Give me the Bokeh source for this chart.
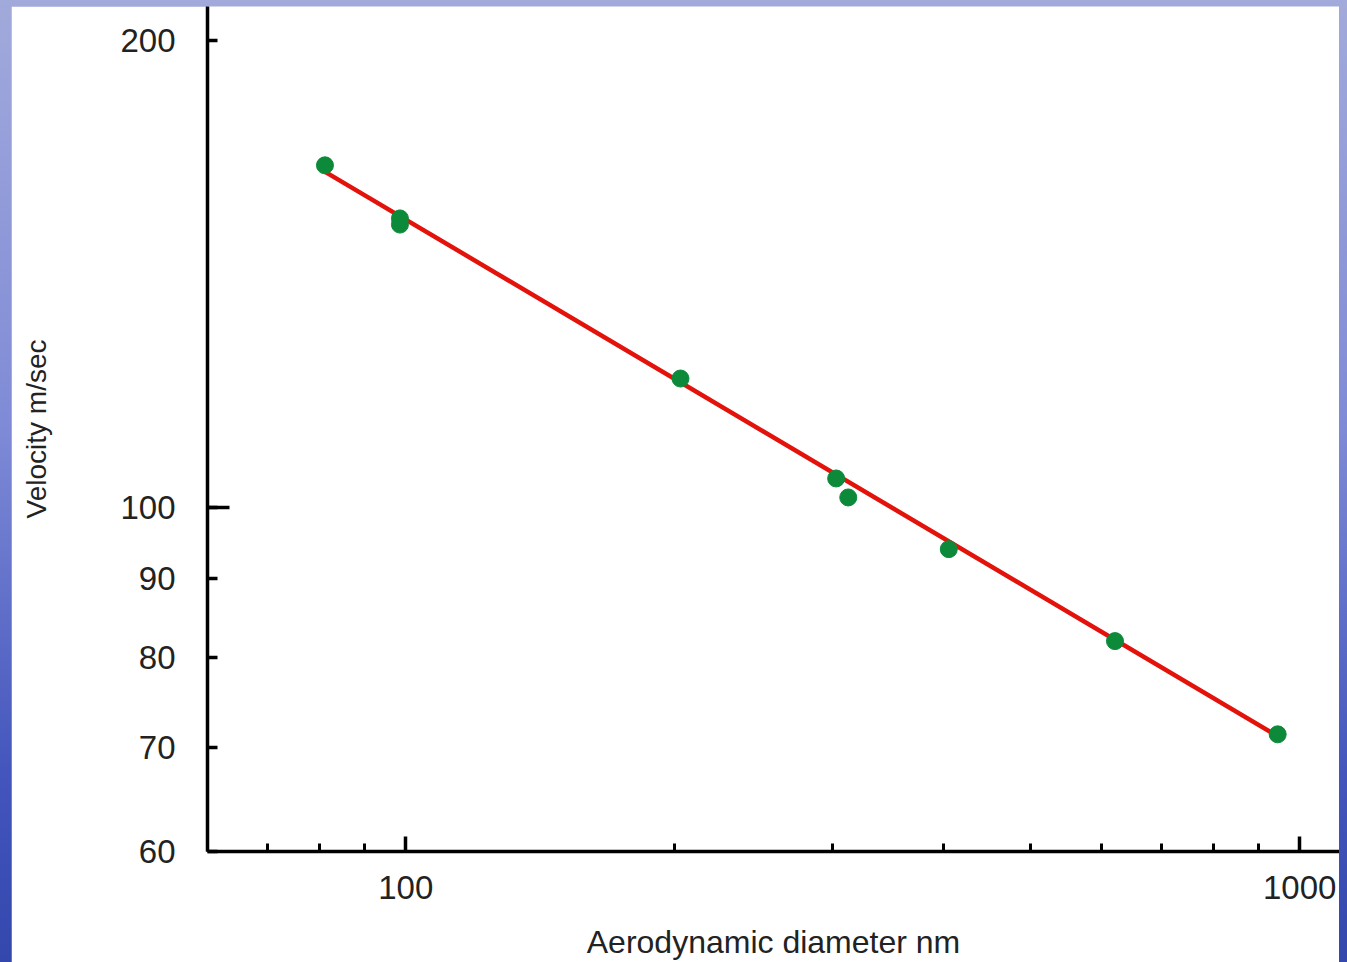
from bokeh.plotting import figure
from bokeh.models import FixedTicker, PrintfTickFormatter, Range1d, ColumnDataSource
from bokeh.layouts import column
from bokeh.embed import file_html
from bokeh.resources import INLINE

# Data (log-log)
diameter_nm = [81.2, 98.5, 98.5, 202.9, 303.0, 312.6, 405.0, 621.4, 944.9]
velocity_ms = [166.2, 153.6, 152.2, 121.1, 104.4, 101.5, 94.0, 82.0, 71.4]

fit_x = [80.8, 945.0]
fit_y = [164.9, 71.2]

x_major = [100, 1000]
x_minor = [60, 70, 80, 90, 200, 300, 400, 500, 600, 700, 800, 900]
y_ticks = [60, 70, 80, 90, 100, 200]
y_long = [100]

FONT = "Liberation Sans"

p = figure(width=1328, height=956, x_axis_type="log", y_axis_type="log",
           x_range=Range1d(60, 1108), y_range=Range1d(60, 210.4),
           output_backend="svg", toolbar_location=None,
           min_border_left=196, min_border_right=0, min_border_top=0, min_border_bottom=111,
           background_fill_color="white", border_fill_color="white")
p.margin = (6, 8, 0, 11)
p.outline_line_color = None
p.xgrid.visible = False
p.ygrid.visible = False

p.line(fit_x, fit_y, line_color="#e3120b", line_width=4.5)
src = ColumnDataSource(dict(x=diameter_nm, y=velocity_ms))
p.scatter("x", "y", source=src, size=17, fill_color="#0c8a3a", line_color="#0c8a3a")

xa = p.xaxis[0]
xa.ticker = FixedTicker(ticks=x_major, minor_ticks=x_minor)
xa.formatter = PrintfTickFormatter(format="%d")
xa.axis_line_width = 3.5
xa.axis_line_color = "black"
xa.major_tick_in = 15
xa.major_tick_out = 0
xa.minor_tick_in = 8
xa.minor_tick_out = 0
xa.major_tick_line_width = 3.5
xa.minor_tick_line_width = 3
xa.major_label_text_font = FONT
xa.major_label_text_font_size = "33px"
xa.major_label_text_color = "#222222"
xa.major_label_standoff = 24
xa.axis_label = "Aerodynamic diameter nm"
xa.axis_label_text_font = FONT
xa.axis_label_text_font_size = "32px"
xa.axis_label_text_font_style = "normal"
xa.axis_label_text_color = "#222222"
xa.axis_label_standoff = 22

ya = p.yaxis[0]
ya.ticker = FixedTicker(ticks=y_ticks, minor_ticks=y_long)
ya.formatter = PrintfTickFormatter(format="%d")
ya.axis_line_width = 3.5
ya.axis_line_color = "black"
ya.major_tick_in = 10
ya.major_tick_out = 0
ya.minor_tick_in = 22
ya.minor_tick_out = 0
ya.major_tick_line_width = 3.5
ya.minor_tick_line_width = 3.5
ya.major_label_text_font = FONT
ya.major_label_text_font_size = "33px"
ya.major_label_text_color = "#222222"
ya.major_label_standoff = 32
ya.axis_label = "Velocity m/sec"
ya.axis_label_text_font = FONT
ya.axis_label_text_font_size = "28px"
ya.axis_label_text_font_style = "normal"
ya.axis_label_text_color = "#222222"
ya.axis_label_standoff = 65

layout = column(p, width=1347, height=962,
                styles={"background": "linear-gradient(180deg, #a2aadb 0%, #7e8ad6 45%, #4456bd 80%, #3347ad 100%)"})

open("out.html", "w").write(file_html(layout, INLINE))
